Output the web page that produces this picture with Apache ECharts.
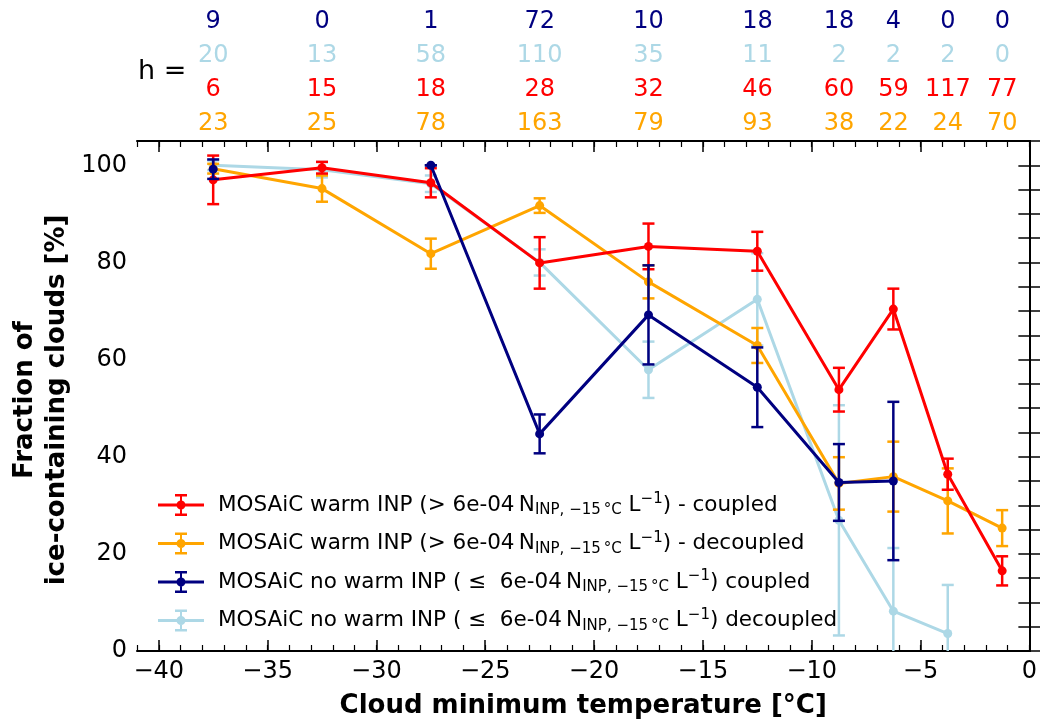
<!DOCTYPE html>
<html>
<head>
<meta charset="utf-8">
<script src="https://cdn.jsdelivr.net/npm/echarts@6/dist/echarts.min.js"></script>
<style>
html,body{margin:0;padding:0;background:#fff;}
#chart{width:1040px;height:724px;}
</style>
</head>
<body>
<div id="chart"></div>
<script>
// ---------- data ----------
const tempBins = [-37.5, -32.5, -27.5, -22.5, -17.5, -12.5, -8.75, -6.25, -3.75, -1.25];
const xMajorTicks = [-40, -35, -30, -25, -20, -15, -10, -5, 0];
const yTickLabels = [0, 20, 40, 60, 80, 100];

const warmCoupled     = [97.0, 99.5, 96.4, 79.9, 83.3, 82.3, 53.8, 70.4, 36.4, 16.5];
const warmCoupledErr  = [5.0, 1.2, 3.0, 5.3, 4.7, 4.0, 4.5, 4.2, 3.2, 3.0];
const warmDecoupled    = [99.3, 95.2, 81.8, 91.7, 76.0, 62.9, 34.5, 35.9, 30.9, 25.3];
const warmDecoupledErr = [1.0, 2.7, 3.1, 1.5, 3.4, 3.6, 5.4, 7.2, 6.7, 3.7];
const noWarmCoupled    = [99.2, null, 100.0, 44.7, 69.2, 54.3, 34.7, 35.0, null, null];
const noWarmCoupledErr = [2.0, null, 0.0, 4.0, 10.2, 8.2, 7.9, 16.3, null, null];
const noWarmDecoupled    = [100.0, 99.1, 96.2, 80.0, 57.9, 72.4, 26.9, 8.2, 3.6, null];
const noWarmDecoupledErr = [1.0, 1.6, 1.7, 2.7, 5.8, 9.5, 23.7, 13.0, 10.0, null];

const countsNoWarmCoupled   = [9, 0, 1, 72, 10, 18, 18, 4, 0, 0];
const countsNoWarmDecoupled = [20, 13, 58, 110, 35, 11, 2, 2, 2, 0];
const countsWarmCoupled     = [6, 15, 18, 28, 32, 46, 60, 59, 117, 77];
const countsWarmDecoupled   = [23, 25, 78, 163, 79, 93, 38, 22, 24, 70];

const names = [
  'MOSAiC warm INP (> 6e-04 N_INP, -15 C L-1) - coupled',
  'MOSAiC warm INP (> 6e-04 N_INP, -15 C L-1) - decoupled',
  'MOSAiC no warm INP (<= 6e-04 N_INP, -15 C L-1) coupled',
  'MOSAiC no warm INP (<= 6e-04 N_INP, -15 C L-1) decoupled'
];
const legendText = {};
legendText[names[0]] = '{t|MOSAiC warm INP (> 6e-04\u2009N}{sub|INP, \u221215\u2009\u00b0C}{t| L}{sup|\u22121}{t|) - coupled}';
legendText[names[1]] = '{t|MOSAiC warm INP (> 6e-04\u2009N}{sub|INP, \u221215\u2009\u00b0C}{t| L}{sup|\u22121}{t|) - decoupled}';
legendText[names[2]] = '{t|MOSAiC no warm INP ( \u2264  6e-04\u2009N}{sub|INP, \u221215\u2009\u00b0C}{t| L}{sup|\u22121}{t|) coupled}';
legendText[names[3]] = '{t|MOSAiC no warm INP ( \u2264  6e-04\u2009N}{sub|INP, \u221215\u2009\u00b0C}{t| L}{sup|\u22121}{t|) decoupled}';

const RED = '#ff0000', ORANGE = '#ffa500', NAVY = '#000080', LBLUE = '#add8e6';
const FONT = 'DejaVu Sans';

// ---------- helpers ----------
function linePoints(vals) {
  return tempBins.map((x, i) => vals[i] === null ? [x, '-'] : [x, vals[i]]);
}
function errPoints(vals, errs) {
  const out = [];
  tempBins.forEach((x, i) => {
    if (vals[i] !== null && errs[i] !== null) out.push([x, vals[i] - errs[i], vals[i] + errs[i]]);
  });
  return out;
}
function errRender(color) {
  return function (params, api) {
    const cs = params.coordSys;
    const x = api.value(0);
    const pLo = api.coord([x, api.value(1)]);
    const pHi = api.coord([x, api.value(2)]);
    const yBottom = cs.y + cs.height, yTop = cs.y;
    const hw = 6;
    const children = [];
    const y1 = Math.max(yTop, pHi[1]);
    const y2 = Math.min(yBottom, pLo[1]);
    const st = { stroke: color, lineWidth: 2.5 };
    children.push({ type: 'line', shape: { x1: pLo[0], y1: y1, x2: pLo[0], y2: y2 }, style: st });
    if (pHi[1] >= yTop) children.push({ type: 'line', shape: { x1: pHi[0] - hw, y1: pHi[1], x2: pHi[0] + hw, y2: pHi[1] }, style: st });
    if (pLo[1] <= yBottom) children.push({ type: 'line', shape: { x1: pLo[0] - hw, y1: pLo[1], x2: pLo[0] + hw, y2: pLo[1] }, style: st });
    return { type: 'group', children: children };
  };
}
function groupSeries(name, color, vals, errs, z) {
  return [
    {
      type: 'custom', xAxisIndex: 0, yAxisIndex: 0, z: z, silent: true,
      renderItem: errRender(color), data: errPoints(vals, errs)
    },
    {
      type: 'line', name: name, xAxisIndex: 0, yAxisIndex: 0, z: z,
      data: linePoints(vals), connectNulls: false,
      symbol: 'circle', symbolSize: 9, showSymbol: true, showAllSymbol: true,
      lineStyle: { color: color, width: 3 },
      itemStyle: { color: color, borderWidth: 0 },
      emphasis: { disabled: true }
    }
  ];
}
function countSeries(counts, row, color) {
  return {
    type: 'scatter', xAxisIndex: 4, yAxisIndex: 2, silent: true,
    symbolSize: 1, itemStyle: { color: 'rgba(0,0,0,0)', opacity: 1 },
    data: tempBins.map((x, i) => [x, row, counts[i]]),
    label: {
      show: true, position: 'inside', formatter: p => String(p.value[2]),
      color: color, opacity: 1, fontSize: 24, fontFamily: FONT
    },
    emphasis: { disabled: true }
  };
}

const minorTicks = [];
for (let v = -41; v <= 0; v++) minorTicks.push(v);
const yTicks = [];
for (let v = 0; v <= 105; v += 5) yTicks.push(v);

const ICON = 'path://M0,9.5L46,9.5L46,12.5L0,12.5Z M22,0L24,0L24,22L22,22Z M17,0L29,0L29,2.5L17,2.5Z M17,19.5L29,19.5L29,22L17,22Z M27.5,11A4.5,4.5 0 1,1 18.5,11A4.5,4.5 0 1,1 27.5,11Z';

const axLine = { show: true, lineStyle: { color: '#000', width: 2 } };
const fmtMinus = v => (v < 0 ? '\u2212' + Math.abs(v) : String(v));

const option = {
  animation: false,
  backgroundColor: '#fff',
  grid: [
    { left: 137, right: 10.5, top: 141, bottom: 70, containLabel: false },
    { left: 137, right: 10.5, top: 22, height: 102, containLabel: false }
  ],
  xAxis: [
    { gridIndex: 0, type: 'value', min: -41, max: 0, position: 'bottom',
      axisLine: axLine,
      axisTick: { show: true, inside: true, length: 11, lineStyle: { color: '#000', width: 1.5 }, customValues: xMajorTicks },
      axisLabel: { show: true, customValues: xMajorTicks, formatter: fmtMinus, fontSize: 24, color: '#000', fontFamily: FONT, margin: 9 },
      splitLine: { show: false },
      name: 'Cloud minimum temperature [\u00b0C]', nameLocation: 'middle', nameGap: 42,
      nameTextStyle: { fontSize: 26, fontWeight: 'bold', color: '#000', fontFamily: FONT }
    },
    { gridIndex: 0, type: 'value', min: -41, max: 0, position: 'bottom',
      axisLine: { show: false },
      axisTick: { show: true, inside: true, length: 6, lineStyle: { color: '#000', width: 1.2 }, customValues: minorTicks },
      axisLabel: { show: false }, splitLine: { show: false }
    },
    { gridIndex: 0, type: 'value', min: -41, max: 0, position: 'top',
      axisLine: axLine,
      axisTick: { show: true, inside: true, length: 11, lineStyle: { color: '#000', width: 1.5 }, customValues: xMajorTicks },
      axisLabel: { show: false }, splitLine: { show: false }
    },
    { gridIndex: 0, type: 'value', min: -41, max: 0, position: 'top',
      axisLine: { show: false },
      axisTick: { show: true, inside: true, length: 6, lineStyle: { color: '#000', width: 1.2 }, customValues: minorTicks },
      axisLabel: { show: false }, splitLine: { show: false }
    },
    { gridIndex: 1, type: 'value', min: -41, max: 0, show: false }
  ],
  yAxis: [
    { gridIndex: 0, type: 'value', min: 0, max: 105, position: 'left',
      axisLine: axLine,
      axisTick: { show: true, inside: true, length: 11, lineStyle: { color: '#000', width: 1.5 }, customValues: yTicks },
      axisLabel: { show: true, customValues: yTickLabels, fontSize: 24, color: '#000', fontFamily: FONT, margin: 10 },
      splitLine: { show: false }
    },
    { gridIndex: 0, type: 'value', min: 0, max: 105, position: 'right',
      axisLine: axLine,
      axisTick: { show: true, inside: true, length: 11, lineStyle: { color: '#000', width: 1.5 }, customValues: yTicks },
      axisLabel: { show: false }, splitLine: { show: false }
    },
    { gridIndex: 1, type: 'value', min: 0, max: 3, inverse: true, show: false }
  ],
  legend: {
    orient: 'vertical', left: 153, top: 487,
    itemWidth: 46, itemHeight: 22, itemGap: 12.5,
    selectedMode: false,
    icon: ICON,
    data: names.map(n => ({ name: n, icon: ICON })),
    itemStyle: { borderWidth: 0 },
    formatter: n => legendText[n],
    textStyle: {
      color: '#000', fontFamily: FONT, padding: [0, 0, 0, 9],
      rich: {
        t: { fontSize: 21.5, fontFamily: FONT, color: '#000', lineHeight: 26 },
        sub: { fontSize: 15, fontFamily: FONT, color: '#000', lineHeight: 15, verticalAlign: 'bottom' },
        sup: { fontSize: 15, fontFamily: FONT, color: '#000', lineHeight: 15, verticalAlign: 'top' }
      }
    }
  },
  graphic: [
    { type: 'text', left: 138, top: 58, style: { text: 'h =', font: '27px "DejaVu Sans"', fill: '#000' } },
    { type: 'text', x: 41, y: 400, rotation: Math.PI / 2,
      style: { text: 'Fraction of\nice-containing clouds [%]', font: 'bold 26px "DejaVu Sans"', fill: '#000',
               align: 'center', verticalAlign: 'middle', lineHeight: 32 } }
  ],
  series: [].concat(
    groupSeries(names[3], LBLUE, noWarmDecoupled, noWarmDecoupledErr, 2),
    groupSeries(names[1], ORANGE, warmDecoupled, warmDecoupledErr, 3),
    groupSeries(names[0], RED, warmCoupled, warmCoupledErr, 4),
    groupSeries(names[2], NAVY, noWarmCoupled, noWarmCoupledErr, 5),
    [
      countSeries(countsNoWarmCoupled, 0, NAVY),
      countSeries(countsNoWarmDecoupled, 1, LBLUE),
      countSeries(countsWarmCoupled, 2, RED),
      countSeries(countsWarmDecoupled, 3, ORANGE)
    ]
  )
};
const chart = echarts.init(document.getElementById('chart'), null, { renderer: 'canvas' });
chart.setOption(option);
</script>
</body>
</html>
